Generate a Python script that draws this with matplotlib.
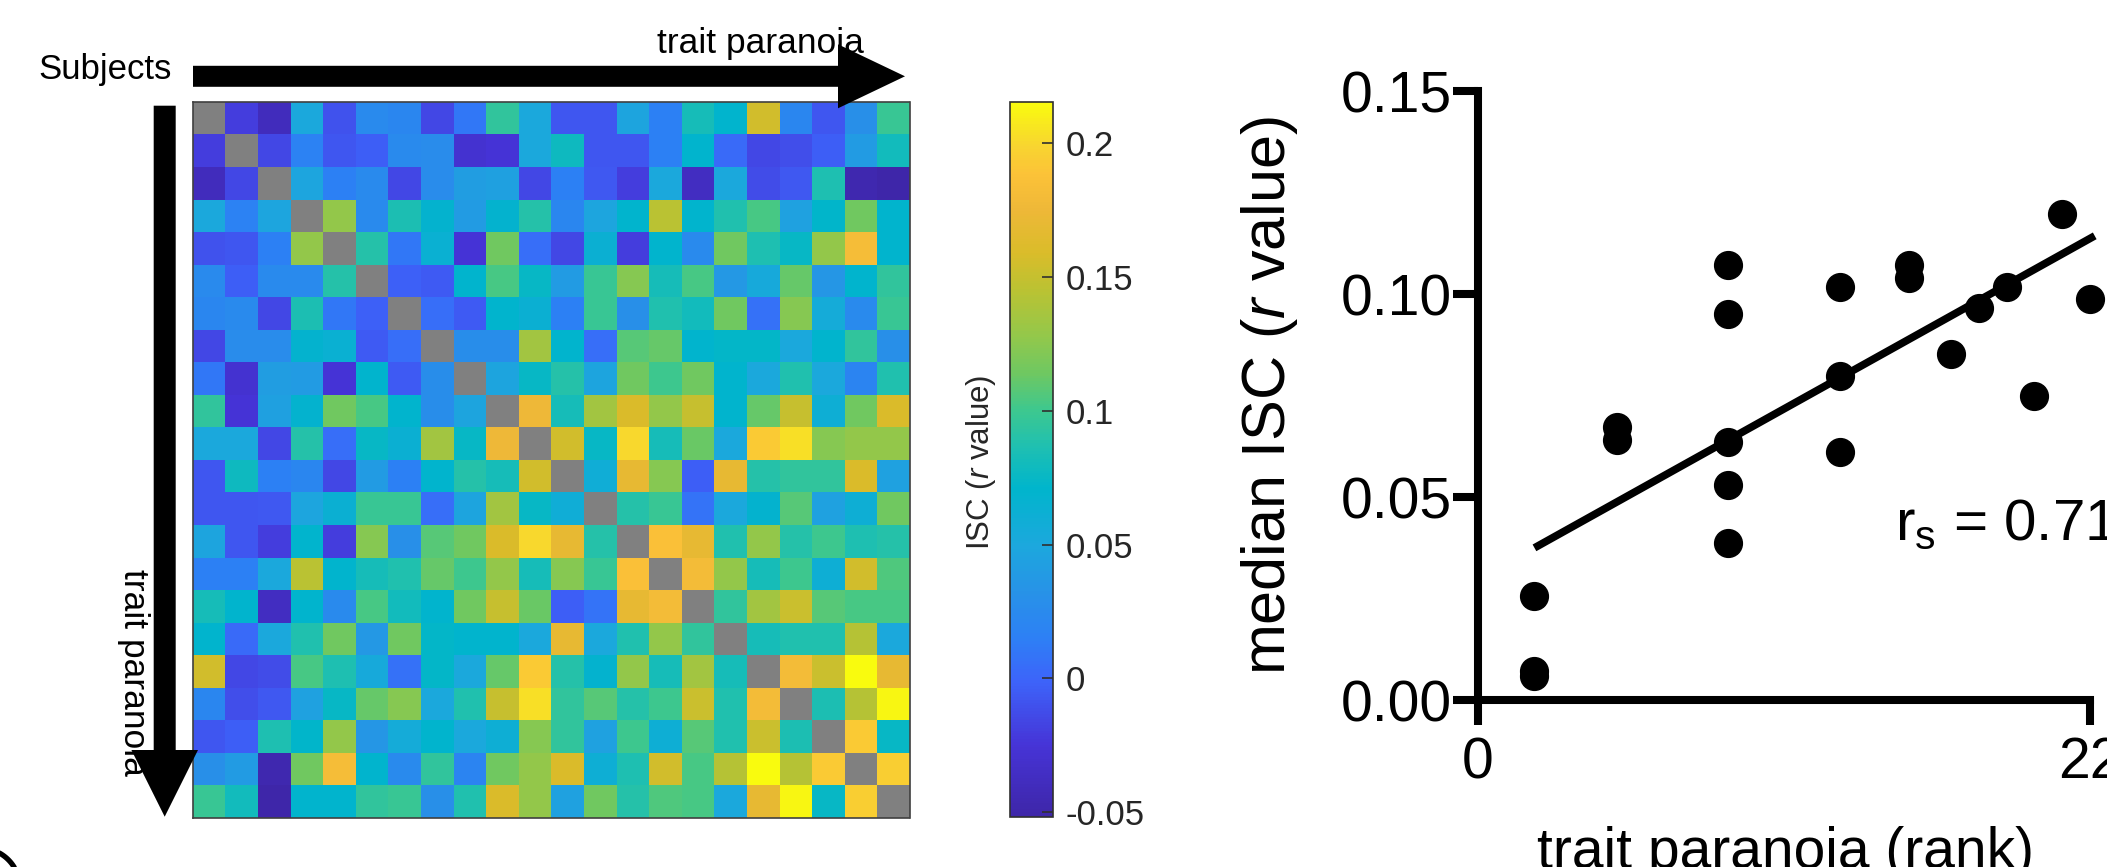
import numpy as np
import matplotlib
matplotlib.use('Agg')
import matplotlib.pyplot as plt
from matplotlib.colors import LinearSegmentedColormap
from matplotlib.patches import FancyArrow

plt.rcParams['font.family'] = ['Liberation Sans', 'DejaVu Sans']
plt.rcParams['mathtext.fontset'] = 'custom'
plt.rcParams['mathtext.rm'] = 'Liberation Sans'
plt.rcParams['mathtext.it'] = 'Liberation Sans:italic'
plt.rcParams['mathtext.default'] = 'regular'

# ---------------- data ----------------
n_subjects = 22
# upper triangle of the inter-subject correlation matrix (row i, columns i+1 .. 21)
isc_upper = [
    [-0.02, -0.04, 0.05, -0.01, 0.025, 0.022, -0.015, 0.01, 0.095, 0.05, -0.008, -0.008, 0.047, 0.015, 0.082, 0.07, 0.155, 0.022, -0.008, 0.03, 0.098],
    [-0.015, 0.018, -0.008, -0.003, 0.025, 0.027, -0.028, -0.025, 0.05, 0.078, -0.007, -0.007, 0.015, 0.07, 0.003, -0.015, -0.012, -0.003, 0.04, 0.08],
    [0.048, 0.015, 0.025, -0.015, 0.027, 0.042, 0.044, -0.015, 0.015, -0.006, -0.02, 0.05, -0.037, 0.05, -0.013, -0.006, 0.087, -0.047, -0.05],
    [0.128, 0.025, 0.085, 0.068, 0.04, 0.068, 0.09, 0.022, 0.048, 0.07, 0.145, 0.07, 0.088, 0.103, 0.045, 0.072, 0.115, 0.07],
    [0.09, 0.01, 0.063, -0.025, 0.115, 0.005, -0.015, 0.062, -0.02, 0.07, 0.025, 0.115, 0.086, 0.075, 0.128, 0.183, 0.07],
    [-0.002, -0.005, 0.07, 0.103, 0.075, 0.04, 0.098, 0.123, 0.082, 0.103, 0.037, 0.053, 0.112, 0.035, 0.07, 0.095],
    [0.005, -0.005, 0.07, 0.062, 0.015, 0.098, 0.03, 0.088, 0.08, 0.115, 0.007, 0.123, 0.055, 0.025, 0.098],
    [0.028, 0.028, 0.135, 0.07, 0.005, 0.107, 0.112, 0.07, 0.073, 0.073, 0.05, 0.07, 0.095, 0.03],
    [0.047, 0.075, 0.09, 0.047, 0.115, 0.1, 0.115, 0.07, 0.05, 0.088, 0.05, 0.02, 0.088],
    [0.175, 0.082, 0.135, 0.16, 0.128, 0.15, 0.07, 0.112, 0.15, 0.06, 0.115, 0.16],
    [0.155, 0.075, 0.2, 0.082, 0.113, 0.05, 0.193, 0.203, 0.123, 0.128, 0.128],
    [0.058, 0.17, 0.123, -0.003, 0.17, 0.09, 0.095, 0.095, 0.16, 0.045],
    [0.09, 0.098, 0.008, 0.05, 0.068, 0.107, 0.045, 0.06, 0.115],
    [0.187, 0.17, 0.088, 0.128, 0.09, 0.1, 0.086, 0.09],
    [0.18, 0.128, 0.082, 0.1, 0.06, 0.155, 0.105],
    [0.095, 0.135, 0.152, 0.107, 0.103, 0.103],
    [0.082, 0.088, 0.088, 0.143, 0.05],
    [0.18, 0.152, 0.215, 0.17],
    [0.085, 0.143, 0.213],
    [0.193, 0.075],
    [0.195],
]
cbar_ticks = [-0.05, 0, 0.05, 0.1, 0.15, 0.2]
cbar_ticklabels = ['-0.05', '0', '0.05', '0.1', '0.15', '0.2']
clim = (-0.0519, 0.2155)

# scatter: trait paranoia rank vs median ISC
paranoia_rank = [2, 2, 2, 5, 5, 9, 9, 9, 9, 9, 13, 13, 13, 15.5, 15.5, 17, 18, 19, 20, 21, 22]
median_isc = [0.0256, 0.0060, 0.0072, 0.0674, 0.0641, 0.1073, 0.0952, 0.0635, 0.0531, 0.0388,
              0.1019, 0.0799, 0.0612, 0.1071, 0.1041, 0.0853, 0.0967, 0.1019, 0.0750, 0.1197, 0.0989]
fit_rank = [2.03, 22.17]
fit_isc = [0.0375, 0.1144]
xticks_sc = [0, 22]
yticks_sc = [0.0, 0.05, 0.10, 0.15]
rs_label = 'r$_{s}$ = 0.71'

# ---------------- matrix ----------------
M = np.full((n_subjects, n_subjects), np.nan)
for i, row in enumerate(isc_upper):
    for k, v in enumerate(row):
        j = i + 1 + k
        M[i, j] = v
        M[j, i] = v

# parula-like colormap
parula_pts = [
    (0.00, (62, 38, 168)), (0.10, (70, 52, 215)), (0.19, (61, 100, 250)),
    (0.25, (45, 128, 245)), (0.31, (40, 145, 232)), (0.38, (28, 168, 221)),
    (0.46, (0, 181, 204)), (0.52, (32, 192, 176)), (0.57, (62, 200, 142)),
    (0.62, (110, 200, 98)), (0.67, (145, 200, 76)), (0.74, (188, 194, 50)),
    (0.79, (218, 188, 42)), (0.85, (238, 184, 56)), (0.90, (252, 194, 56)),
    (0.94, (248, 213, 48)), (1.00, (249, 251, 14)),
]
parula = LinearSegmentedColormap.from_list(
    'parula', [(p, tuple(c / 255 for c in rgb)) for p, rgb in parula_pts], N=256)
parula.set_bad('#808080')

W, H = 2107, 867
fig = plt.figure(figsize=(W / 100, H / 100), dpi=100)

# heatmap
ax = fig.add_axes([192.7 / W, 1 - 818.3 / H, 716.8 / W, 716.0 / H])
im = ax.imshow(np.ma.masked_invalid(M), cmap=parula, vmin=clim[0], vmax=clim[1],
               interpolation='nearest', aspect='auto')
ax.set_xticks([])
ax.set_yticks([])
for s in ax.spines.values():
    s.set_color('#404040')
    s.set_linewidth(1.2)

# colorbar
cax = fig.add_axes([1010 / W, 1 - 817.3 / H, 42.7 / W, 715.6 / H])
cb = fig.colorbar(im, cax=cax, ticks=cbar_ticks)
cb.ax.set_yticklabels(cbar_ticklabels)
cb.outline.set_edgecolor('#303030')
cb.outline.set_linewidth(1.2)
cax.tick_params(direction='in', length=8, width=1.2, color='#303030',
                labelsize=25, labelcolor='#262626', pad=9)
fig.text(981 / W, 1 - 462 / H, 'ISC ($\\it{r}$ value)', rotation=90,
         ha='center', va='center', fontsize=22.5, color='#262626')

# overlay for arrows and annotations
ov = fig.add_axes([0, 0, 1, 1], zorder=10)
ov.set_xlim(0, W)
ov.set_ylim(H, 0)
ov.axis('off')
ov.text(105, 70, 'Subjects', ha='center', va='center', fontsize=25, zorder=1)
ov.text(760, 44, 'trait paranoia', ha='center', va='center', fontsize=25.5, zorder=1)
ov.text(133, 672, 'trait paranoia', ha='center', va='center', rotation=-90,
        fontsize=25.5, zorder=1)
ov.add_patch(FancyArrow(193, 76.3, 712, 0, width=21, head_width=64, head_length=67,
                        length_includes_head=True, color='black', lw=0, zorder=5))
ov.add_patch(FancyArrow(164.7, 105.7, 0, 711, width=22, head_width=66.6, head_length=66.7,
                        length_includes_head=True, color='black', lw=0, zorder=5))
# fragment of a neighbouring panel mark at the bottom-left corner
th = np.linspace(np.radians(15), np.radians(75), 30)
ov.plot(-20 + 40 * np.cos(th), 888 - 40 * np.sin(th), color='black', lw=3.8,
        solid_capstyle='butt', clip_on=True)

# scatter
ax2 = fig.add_axes([1478 / W, 1 - 700 / H, 612 / W, 608.6 / H])
ax2.plot(paranoia_rank, median_isc, 'o', ms=20, color='black', clip_on=False, zorder=3)
ax2.plot(fit_rank, fit_isc, color='black', lw=5.5, solid_capstyle='butt', clip_on=False)
ax2.set_xlim(0, 22)
ax2.set_ylim(0, 0.15)
ax2.set_xticks(xticks_sc)
ax2.set_yticks(yticks_sc)
ax2.set_yticklabels(['%.2f' % v for v in yticks_sc])
for side in ['top', 'right']:
    ax2.spines[side].set_visible(False)
for side in ['left', 'bottom']:
    ax2.spines[side].set_linewidth(5.8)
    ax2.spines[side].set_capstyle('projecting')
ax2.tick_params(direction='out', length=18, width=5.8, labelsize=41)
ax2.tick_params(axis='y', pad=1)
ax2.tick_params(axis='x', pad=8)
ax2.text(-0.34, 0.5, 'median ISC ($\\it{r}$ value)', transform=ax2.transAxes,
         rotation=90, ha='center', va='center', fontsize=44)
ax2.text(0.503, -0.207, 'trait paranoia (rank)', transform=ax2.transAxes,
         ha='center', va='top', fontsize=41)
ax2.text(15.0, 0.0395, rs_label, ha='left', va='baseline', fontsize=42)

fig.savefig('out.png', dpi=100)
